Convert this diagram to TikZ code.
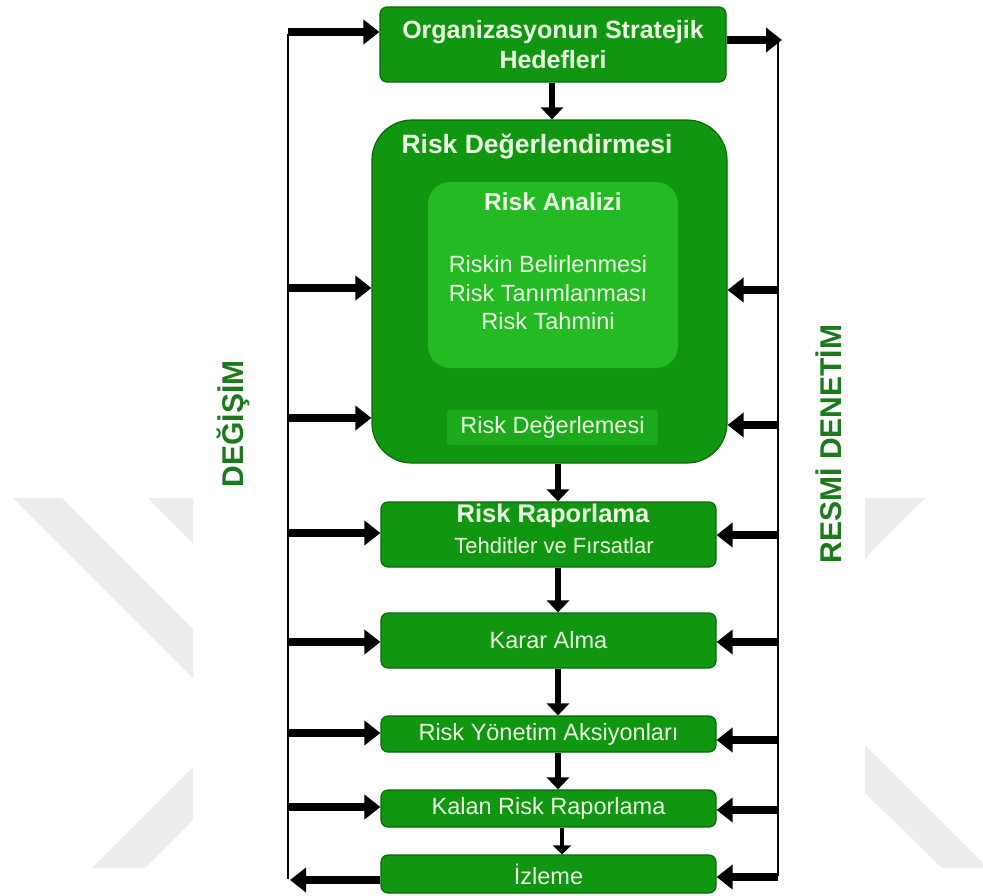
\documentclass[tikz,border=0pt]{standalone}
\usepackage{fontspec}
\setmainfont{Liberation Sans}
\usetikzlibrary{arrows.meta}
\definecolor{boxgreen}{RGB}{16,150,16}
\definecolor{boxedge}{RGB}{8,105,8}
\definecolor{innergreen}{RGB}{36,186,36}
\definecolor{evalgreen}{RGB}{28,170,28}
\definecolor{boxtext}{RGB}{236,255,226}
\definecolor{sidegreen}{RGB}{28,122,28}
\definecolor{markgray}{RGB}{237,237,237}
\begin{document}
\begin{tikzpicture}[x=1pt,y=-1pt]
\tikzset{
  stage/.style={draw=boxedge, line width=1.2pt, fill=boxgreen, rounded corners=7pt,
    text=boxtext, align=center, inner sep=0pt, minimum width=335pt},
  boxlabel/.style={text=boxtext, inner sep=0pt, align=center},
  bigfont/.style={font=\bfseries\fontsize{25}{30}\selectfont},
  smallfont/.style={font=\fontsize{23.5}{28.5}\selectfont},
  sidelabel/.style={text=sidegreen, font=\bfseries\fontsize{30}{30}\selectfont, rotate=90, inner sep=0pt},
  harr/.style={line width=7.5pt, -{Triangle[length=16pt,width=24pt]}},
  varr/.style={line width=6pt, -{Triangle[length=12pt,width=22pt]}},
  rail/.style={line width=2.6pt},
}
\useasboundingbox (0,0) rectangle (983,895);
\fill[white] (0,0) rectangle (983,895);

% background emblem bands
\fill[markgray] (13,498) -- (62,498) -- (193,629) -- (193,678) -- cycle;
\fill[markgray] (148,498) -- (193,498) -- (193,543) -- cycle;
\fill[markgray] (92,868) -- (145,868) -- (193,820) -- (193,767) -- cycle;
\fill[markgray] (865,498) -- (925,498) -- (865,558) -- cycle;
\fill[markgray] (865,745) -- (983,863) -- (983,868) -- (942,868) -- (865,793) -- cycle;

% process boxes
\node[stage, minimum width=346pt, minimum height=75pt, bigfont] (goals) at (553,44.5)
  {Organizasyonun Stratejik\\Hedefleri};

\node[draw=boxedge, line width=1.2pt, fill=boxgreen, rounded corners=40pt,
  minimum width=355pt, minimum height=343pt, inner sep=0pt] (assess) at (549.5,291.5) {};
\node[boxlabel, font=\bfseries\fontsize{26.5}{30}\selectfont] (assesstitle) at (537,147) {Risk Değerlendirmesi};

\node[fill=innergreen, rounded corners=22pt, minimum width=250pt, minimum height=186pt,
  inner sep=0pt] (analysis) at (553,275) {};
\node[boxlabel, font=\bfseries\fontsize{24.5}{30}\selectfont] (analysistitle) at (553,202) {Risk Analizi};
\node[boxlabel, smallfont] (analysisbody) at (548,293)
  {Riskin Belirlenmesi\\Risk Tanımlanması\\Risk Tahmini};

\node[fill=evalgreen, rounded corners=3pt, minimum width=211pt, minimum height=35pt,
  inner sep=0pt, text=boxtext, smallfont] (evaluation) at (552.5,427.5) {Risk Değerlemesi};

\node[stage, minimum height=65pt] (report) at (548.5,534.5) {};
\node[boxlabel, font=\bfseries\fontsize{25.5}{30}\selectfont] (reporttitle) at (553,516) {Risk Raporlama};
\node[boxlabel, font=\fontsize{22}{26}\selectfont] (reportbody) at (554,546) {Tehditler ve Fırsatlar};

\node[stage, minimum height=55pt, smallfont] (decide) at (548.5,640.5) {Karar Alma};
\node[stage, minimum height=36pt, smallfont] (actions) at (548.5,734) {Risk Yönetim Aksiyonları};
\node[stage, minimum height=37pt, smallfont] (residual) at (548.5,808.5) {Kalan Risk Raporlama};
\node[stage, minimum height=38pt, smallfont] (monitor) at (548.5,874) {İzleme};

% side captions
\node[sidelabel] (change) at (233,424) {DEĞİŞİM};
\node[sidelabel] (audit) at (829,444) {RESMİ DENETİM};

% feedback rails
\coordinate (Ltop) at (288,32);
\coordinate (Lbot) at (288,880);
\coordinate (Rtop) at (778,40);
\coordinate (Rbot) at (778,877);
\draw[rail] ([yshift=-2pt]Ltop) -- ([yshift=1pt]Lbot);
\draw[rail] ([yshift=-2pt]Rtop) -- ([yshift=1pt]Rbot);

% main flow
\coordinate (flowA) at (552,0);
\coordinate (flowB) at (558,0);
\coordinate (flowC) at (562,0);
\draw[varr] (goals.south -| flowA) -- (assess.north -| flowA);
\draw[varr] (assess.south -| flowB) -- (report.north -| flowB);
\draw[varr] (report.south -| flowB) -- (decide.north -| flowB);
\draw[varr] (decide.south -| flowB) -- (actions.north -| flowB);
\draw[varr] (actions.south -| flowB) -- (residual.north -| flowB);
\draw[line width=4pt, -{Triangle[length=9pt,width=18pt]}] (residual.south -| flowC) -- (monitor.north -| flowC);

% left rail into the boxes
\draw[harr] (Ltop) -- (Ltop -| goals.west);
\coordinate (l1) at (288,288);
\coordinate (l2) at (288,418);
\coordinate (l3) at (288,533);
\coordinate (l4) at (288,642);
\coordinate (l5) at (288,733);
\coordinate (l6) at (288,807);
\draw[harr] (l1) -- (l1 -| assess.west);
\draw[harr] (l2) -- (l2 -| assess.west);
\draw[harr] (l3) -- (l3 -| report.west);
\draw[harr] (l4) -- (l4 -| decide.west);
\draw[harr] (l5) -- (l5 -| actions.west);
\draw[harr] (l6) -- (l6 -| residual.west);
\draw[harr] (Lbot -| monitor.west) -- ([xshift=2pt]Lbot);

% right rail into the boxes
\draw[harr] (Rtop -| goals.east) -- ([xshift=4pt]Rtop);
\coordinate (r1) at (778,290);
\coordinate (r2) at (778,425);
\coordinate (r3) at (778,535);
\coordinate (r4) at (778,642);
\coordinate (r5) at (778,740);
\coordinate (r6) at (778,810);
\draw[harr] (r1) -- (r1 -| assess.east);
\draw[harr] (r2) -- (r2 -| assess.east);
\draw[harr] (r3) -- (r3 -| report.east);
\draw[harr] (r4) -- (r4 -| decide.east);
\draw[harr] (r5) -- (r5 -| actions.east);
\draw[harr] (r6) -- (r6 -| residual.east);
\draw[harr] (Rbot) -- (Rbot -| monitor.east);
\end{tikzpicture}
\end{document}
